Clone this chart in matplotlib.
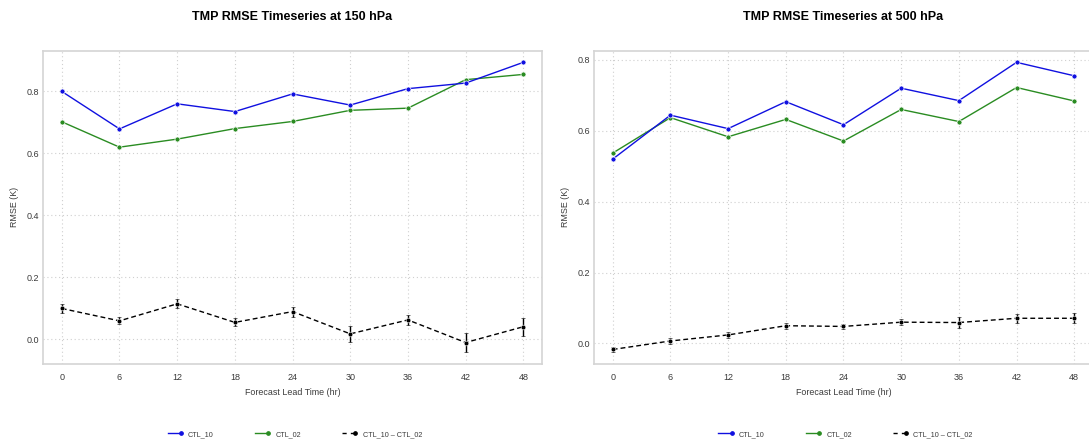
import numpy as np
import matplotlib
matplotlib.use("Agg")
import matplotlib.pyplot as plt
from matplotlib.lines import Line2D
from matplotlib.legend_handler import HandlerLine2DCompound
from matplotlib.ticker import MultipleLocator

plt.rcParams['font.family'] = ['Liberation Sans', 'DejaVu Sans']

# forecast lead times (hr)
leadTimes = [0, 6, 12, 18, 24, 30, 36, 42, 48]

# 150 hPa temperature RMSE (K)
ctl10_150 = [0.800, 0.679, 0.760, 0.735, 0.792, 0.756, 0.809, 0.827, 0.894]
ctl02_150 = [0.702, 0.620, 0.646, 0.680, 0.703, 0.739, 0.746, 0.838, 0.855]
diff_150 = [0.099, 0.059, 0.114, 0.054, 0.089, 0.017, 0.062, -0.011, 0.040]
diffErr_150 = [0.015, 0.011, 0.015, 0.013, 0.016, 0.025, 0.017, 0.031, 0.029]

# 500 hPa temperature RMSE (K)
ctl10_500 = [0.520, 0.644, 0.606, 0.682, 0.617, 0.720, 0.685, 0.793, 0.755]
ctl02_500 = [0.537, 0.637, 0.583, 0.632, 0.571, 0.660, 0.626, 0.722, 0.684]
diff_500 = [-0.017, 0.007, 0.024, 0.050, 0.048, 0.060, 0.059, 0.071, 0.071]
diffErr_500 = [0.0075, 0.008, 0.008, 0.008, 0.007, 0.009, 0.015, 0.013, 0.014]

levels = ["150", "500"]
seriesNames = ["CTL_10", "CTL_02", "CTL_10 \u2013 CTL_02"]

BLUE = "#1010e0"
GREEN = "#2a8c22"
TEXT = "#3a3a3a"


# legend handle with the marker sitting at the right end of the line
class EndMarkerHandler(HandlerLine2DCompound):
    def get_xdata(self, legend, xdescent, ydescent, width, height, fontsize):
        xdata = np.array([-xdescent, -xdescent + width])
        return xdata, np.array([-xdescent + width - 1.0])


def drawPanel(ax, level, ctl10, ctl02, diff, diffErr):
    ax.plot(leadTimes, ctl02, color=GREEN, lw=1.0, marker='o', ms=3.6,
            mec='white', mew=0.5, zorder=3)
    ax.plot(leadTimes, ctl10, color=BLUE, lw=1.0, marker='o', ms=3.6,
            mec='white', mew=0.5, zorder=3)
    ax.errorbar(leadTimes, diff, yerr=diffErr, color='black', lw=1.0,
                dashes=(3.5, 2.2), marker='o', ms=3.4, mec='white', mew=0.4,
                elinewidth=1.0, capsize=1.5, capthick=0.8, zorder=3)

    ax.margins(x=0.04, y=0.04)
    ax.set_xticks(leadTimes)
    ax.yaxis.set_major_locator(MultipleLocator(0.2))
    ax.grid(True, color='#cfcfcf', lw=0.8, ls=(0, (1, 2.5)))
    ax.set_axisbelow(True)
    for s in ax.spines.values():
        s.set_color('#d4d4d4')
        s.set_linewidth(1.2)
    ax.tick_params(axis='both', length=0, labelsize=6.5, labelcolor=TEXT)
    ax.tick_params(axis='x', pad=7)
    ax.tick_params(axis='y', pad=3)

    ax.set_title("TMP RMSE Timeseries at " + level + " hPa", fontsize=9,
                 fontweight='bold', pad=22)
    ax.set_xlabel("Forecast Lead Time (hr)", fontsize=6.4, color=TEXT)
    ax.set_ylabel("RMSE (K)", fontsize=6.4, color=TEXT)
    ax.xaxis.set_label_coords(0.5, -0.078)
    ax.yaxis.set_label_coords(-0.049, 0.5)


def main():
    fig = plt.figure(figsize=(10.89, 4.42), dpi=100)
    axWidth = 0.4577
    axLeft = fig.add_axes([0.0398, 0.1771, axWidth, 0.7081])
    axRight = fig.add_axes([0.5457, 0.1771, axWidth, 0.7081])

    drawPanel(axLeft, levels[0], ctl10_150, ctl02_150, diff_150, diffErr_150)
    drawPanel(axRight, levels[1], ctl10_500, ctl02_500, diff_500, diffErr_500)

    handles = [
        Line2D([], [], color=BLUE, lw=1.0, marker='o', ms=2.4),
        Line2D([], [], color=GREEN, lw=1.0, marker='o', ms=2.4),
        Line2D([], [], color='black', lw=1.0, dashes=(3.0, 3.0), marker='o', ms=2.4),
    ]
    for ax, left in [(axLeft, 0.0398), (axRight, 0.5457)]:
        fig.legend(handles, seriesNames, loc='center',
                   bbox_to_anchor=(left + axWidth / 2 + 0.002, 0.0174), ncol=3,
                   frameon=False, fontsize=5.2, handlelength=2.0,
                   handletextpad=0.83, columnspacing=5.7, labelcolor=TEXT,
                   handler_map={Line2D: EndMarkerHandler()})

    fig.savefig("out.png", dpi=100)


if __name__ == '__main__':
    main()
